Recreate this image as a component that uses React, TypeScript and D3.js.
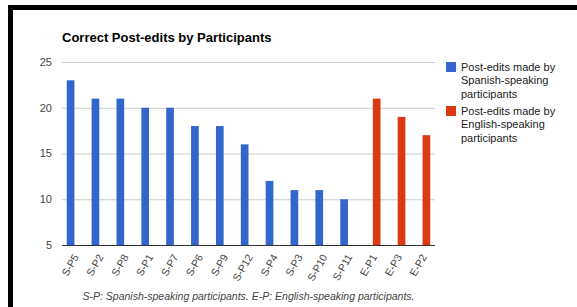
import * as d3 from 'd3';

const categories = ['S-P5', 'S-P2', 'S-P8', 'S-P1', 'S-P7', 'S-P6', 'S-P9', 'S-P12', 'S-P4', 'S-P3', 'S-P10', 'S-P11', 'E-P1', 'E-P3', 'E-P2'];
const seriesNames = ['Post-edits made by Spanish-speaking participants', 'Post-edits made by English-speaking participants'];
const spanishValues: (number | null)[] = [23, 21, 21, 20, 20, 18, 18, 16, 12, 11, 11, 10, null, null, null];
const englishValues: (number | null)[] = [null, null, null, null, null, null, null, null, null, null, null, null, 21, 19, 17];
const yTicks = [5, 10, 15, 20, 25];
const legendLines = [
  ['Post-edits made by', 'Spanish-speaking', 'participants'],
  ['Post-edits made by', 'English-speaking', 'participants'],
];
const colors = ['#3366cc', '#dc3912'];

const W = 577;
const H = 307;
const font = 'Arial, "Liberation Sans", sans-serif';

export default function App() {
  const plot = { left: 62, right: 435, top: 62, bottom: 245 };

  const x = d3.scaleBand<string>()
    .domain(categories)
    .range([plot.left, plot.right])
    .paddingInner(0)
    .paddingOuter(0);

  // two series per group, like google's grouped columns
  const groupW = x.bandwidth() * 0.618;
  const inner = d3.scaleBand<number>()
    .domain([0, 1])
    .range([(x.bandwidth() - groupW) / 2, (x.bandwidth() + groupW) / 2]);

  const y = d3.scaleLinear().domain([5, 25]).range([plot.bottom, plot.top]);

  const series = [spanishValues, englishValues];

  return (
    <svg width={W} height={H} style={{ position: 'absolute', left: 0, top: 0, background: '#fff' }} fontFamily={font}>
      <rect x={0} y={0} width={W} height={H} fill="#fff" />
      {/* black frame */}
      <rect x={8} y={5} width={W - 8} height={5} fill="#000" />
      <rect x={8} y={5} width={5} height={H - 5} fill="#000" />

      <text x={plot.left} y={42} fontSize={13} fontWeight="bold" fill="#000">Correct Post-edits by Participants</text>

      {/* gridlines */}
      {yTicks.map(t => (
        <g key={t}>
          {t !== 5 && (
            <line x1={plot.left} x2={plot.right} y1={y(t) + 0.5} y2={y(t) + 0.5} stroke="#cccccc" strokeWidth={1} />
          )}
          <text x={52} y={y(t)} dy="0.35em" textAnchor="end" fontSize={11} fill="#444">{t}</text>
        </g>
      ))}

      {/* bars */}
      {series.map((vals, si) => (
        <g key={si}>
          {vals.map((v, i) => v == null ? null : (
            <rect
              key={i}
              x={(x(categories[i]) ?? 0) + (inner(si) ?? 0)}
              y={y(v)}
              width={inner.bandwidth()}
              height={y(5) - y(v)}
              fill={colors[si]}
            />
          ))}
        </g>
      ))}

      <line x1={plot.left} x2={plot.right} y1={plot.bottom + 0.5} y2={plot.bottom + 0.5} stroke="#333" strokeWidth={1} />

      {/* x labels */}
      {categories.map(c => {
        const cx = (x(c) ?? 0) + x.bandwidth() / 2;
        return (
          <text
            key={c}
            transform={`translate(${cx + 1.5},${plot.bottom + 10}) rotate(-60)`}
            textAnchor="end"
            dy="0.35em"
            fontSize={10.5}
            fill="#444"
          >{c}</text>
        );
      })}

      <text x={(plot.left + plot.right) / 2} y={300} textAnchor="middle" fontSize={10.5} fontStyle="italic" fill="#444">
        S-P: Spanish-speaking participants. E-P: English-speaking participants.
      </text>

      {/* legend */}
      {legendLines.map((lines, li) => (
        <g key={li} transform={`translate(446,${62 + li * 44})`}>
          <title>{seriesNames[li]}</title>
          <rect x={0} y={0} width={10} height={10} fill={colors[li]} />
          {lines.map((ln, k) => (
            <text key={k} x={15} y={5 + k * 13.5} dy="0.35em" fontSize={11} fill="#222">{ln}</text>
          ))}
        </g>
      ))}
    </svg>
  );
}
